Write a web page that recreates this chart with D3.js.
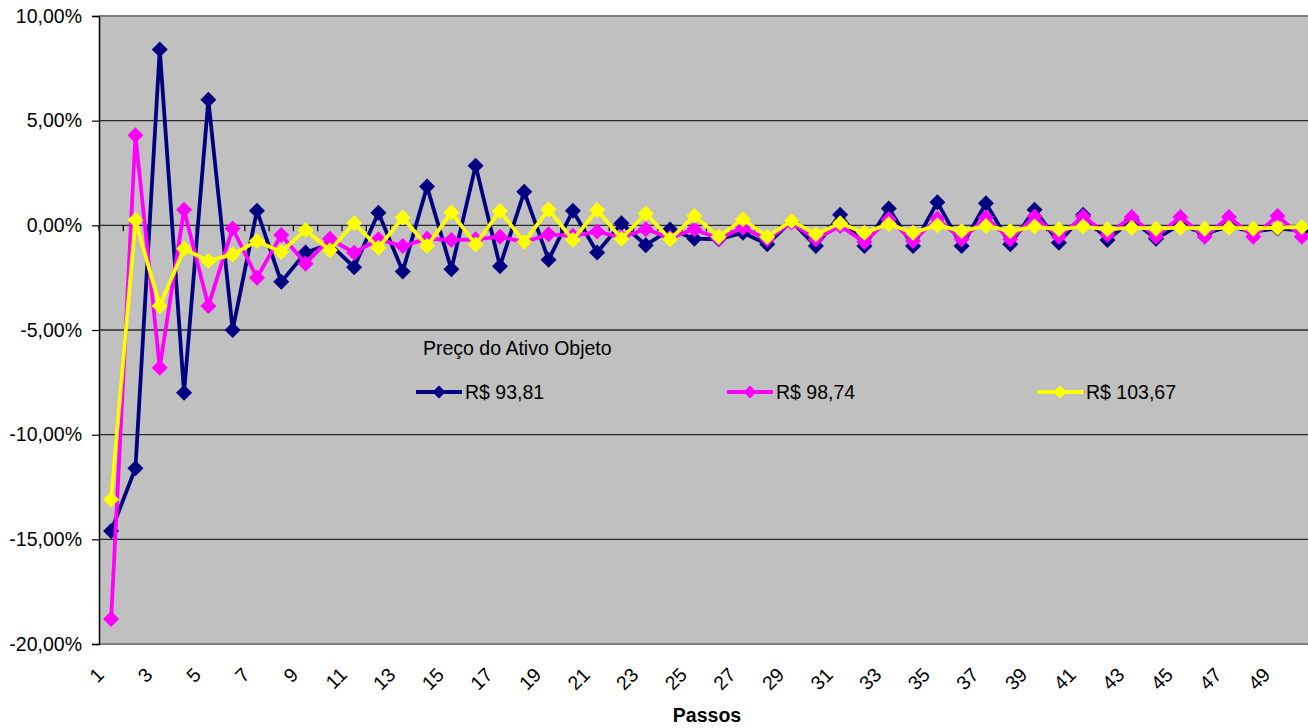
<!DOCTYPE html>
<html>
<head>
<meta charset="utf-8">
<script src="https://cdn.jsdelivr.net/npm/d3@7"></script>
<style>
  html, body { margin: 0; padding: 0; background: #ffffff; }
  svg { display: block; overflow: hidden; }
  text { font-family: Arial, "Liberation Sans", sans-serif; fill: #000; }
</style>
</head>
<body>
<svg id="chart" width="1308" height="728"></svg>
<script>
const categories = d3.range(1, 51).map(String);
const xTickLabels = categories.filter((d, i) => i % 2 === 0);
const yTickValues = [-20, -15, -10, -5, 0, 5, 10];
const yTickLabels = ["-20,00%", "-15,00%", "-10,00%", "-5,00%", "0,00%", "5,00%", "10,00%"];
const seriesNames = ["R$ 93,81", "R$ 98,74", "R$ 103,67"];
const seriesColors = ["#000080", "#FF00FF", "#FFFF00"];
const legendTitle = "Preço do Ativo Objeto";
const xAxisTitle = "Passos";

const navy = [-14.6, -11.6, 8.4, -8.0, 6.0, -5.0, 0.7, -2.7, -1.3, -0.9,
  -2.0, 0.6, -2.2, 1.85, -2.1, 2.85, -1.95, 1.6, -1.65, 0.7,
  -1.3, 0.1, -0.95, -0.2, -0.64, -0.67, -0.35, -0.9, 0.2, -0.99,
  0.5, -0.99, 0.8, -0.99, 1.1, -0.99, 1.05, -0.9, 0.75, -0.83,
  0.5, -0.7, 0.25, -0.64, 0.05, -0.4, -0.05, -0.3, -0.15, -0.25];
const pink = [-18.8, 4.3, -6.8, 0.75, -3.85, -0.15, -2.5, -0.46, -1.83, -0.64,
  -1.31, -0.67, -0.99, -0.64, -0.7, -0.67, -0.54, -0.8, -0.43, -0.5,
  -0.3, -0.57, -0.19, -0.59, -0.19, -0.64, -0.11, -0.67, 0.13, -0.67,
  -0.03, -0.8, 0.29, -0.75, 0.32, -0.67, 0.37, -0.67, 0.42, -0.54,
  0.42, -0.45, 0.4, -0.54, 0.4, -0.54, 0.4, -0.54, 0.45, -0.54];
const yellow = [-13.1, 0.25, -3.85, -1.12, -1.7, -1.39, -0.75, -1.27, -0.22, -1.19,
  0.1, -1.07, 0.37, -0.99, 0.61, -0.91, 0.69, -0.8, 0.76, -0.7,
  0.73, -0.64, 0.57, -0.67, 0.45, -0.54, 0.29, -0.54, 0.21, -0.43,
  0.1, -0.35, 0.05, -0.35, 0.0, -0.27, -0.03, -0.27, -0.06, -0.19,
  -0.06, -0.19, -0.11, -0.16, -0.11, -0.16, -0.11, -0.16, -0.11, -0.08];
const seriesValues = [navy, pink, yellow];

(function () {
const svg = d3.select("#chart");
const pLeft = 99, pTop = 16, pBottom = 644;
const step = 24.3;
const pRight = pLeft + step * categories.length;

const x = d3.scaleBand().domain(categories).range([pLeft, pRight]).padding(0);
const y = d3.scaleLinear().domain([-20, 10]).range([pBottom, pTop]);
const cx = c => x(c) + x.bandwidth() / 2;

// plot background
svg.append("rect").attr("x", pLeft).attr("y", pTop)
  .attr("width", pRight - pLeft).attr("height", pBottom - pTop)
  .attr("fill", "#C0C0C0");

// gridlines
svg.append("g").selectAll("line").data([-15, -10, -5, 0, 5]).join("line")
  .attr("x1", pLeft).attr("x2", pRight)
  .attr("y1", d => y(d)).attr("y2", d => y(d))
  .attr("stroke", "#2a2a2a").attr("stroke-width", 1.3);

// plot border top/bottom
svg.append("line").attr("x1", pLeft).attr("x2", pRight).attr("y1", pTop).attr("y2", pTop)
  .attr("stroke", "#808080").attr("stroke-width", 2);
svg.append("line").attr("x1", pLeft).attr("x2", pRight).attr("y1", pBottom).attr("y2", pBottom)
  .attr("stroke", "#808080").attr("stroke-width", 2);

// category axis at 0 with ticks at boundaries
const boundaries = categories.map(c => x(c)).concat([pRight]);
svg.append("g").selectAll("line").data(boundaries).join("line")
  .attr("x1", d => d).attr("x2", d => d)
  .attr("y1", y(0)).attr("y2", y(0) + 6)
  .attr("stroke", "#000").attr("stroke-width", 1.2);

// y axis
const yAxis = d3.axisLeft(y).tickValues(yTickValues)
  .tickFormat((d, i) => yTickLabels[i]).tickSize(7).tickPadding(10);
const gy = svg.append("g").attr("transform", `translate(${pLeft},0)`).call(yAxis);
gy.select(".domain").attr("stroke", "#000").attr("stroke-width", 1.5);
gy.selectAll(".tick line").attr("stroke", "#000").attr("stroke-width", 1.2);
gy.selectAll(".tick text").attr("font-size", 19.5)
  .style("font-family", "Arial, 'Liberation Sans', sans-serif").attr("fill", "#000");

// x tick labels (rotated)
svg.append("g").selectAll("text").data(xTickLabels).join("text")
  .attr("transform", d => `translate(${cx(d) - 11},${671}) rotate(-45)`)
  .attr("text-anchor", "end")
  .attr("dominant-baseline", "central")
  .attr("font-size", 19.5)
  .text(d => d);

// x axis title
svg.append("text").attr("x", 707).attr("y", 722)
  .attr("text-anchor", "middle").attr("font-size", 19.5).attr("font-weight", "bold")
  .text(xAxisTitle);

// series
const diamond = (s) => `M0,${-s}L${s},0L0,${s}L${-s},0Z`;
seriesValues.forEach((vals, si) => {
  const pts = categories.map((c, i) => [cx(c), y(vals[i])]);
  svg.append("path").attr("d", d3.line()(pts))
    .attr("fill", "none").attr("stroke", seriesColors[si])
    .attr("stroke-width", 3.8).attr("stroke-linejoin", "miter");
  svg.append("g").selectAll("path").data(pts).join("path")
    .attr("transform", d => `translate(${d[0]},${d[1]})`)
    .attr("d", diamond(8))
    .attr("fill", seriesColors[si]);
});

// legend
svg.append("text").attr("x", 423).attr("y", 348)
  .attr("dominant-baseline", "central").attr("font-size", 19.5)
  .text(legendTitle);
const legendX = [416, 727, 1037];
seriesNames.forEach((name, i) => {
  const lx = legendX[i], ly = 392;
  svg.append("line").attr("x1", lx).attr("x2", lx + 46).attr("y1", ly).attr("y2", ly)
    .attr("stroke", seriesColors[i]).attr("stroke-width", 3.8);
  svg.append("path").attr("transform", `translate(${lx + 23},${ly})`)
    .attr("d", diamond(6.5)).attr("fill", seriesColors[i]);
  svg.append("text").attr("x", lx + 49).attr("y", ly)
    .attr("dominant-baseline", "central").attr("font-size", 19.5)
    .text(name);
});
})();
</script>
</body>
</html>
